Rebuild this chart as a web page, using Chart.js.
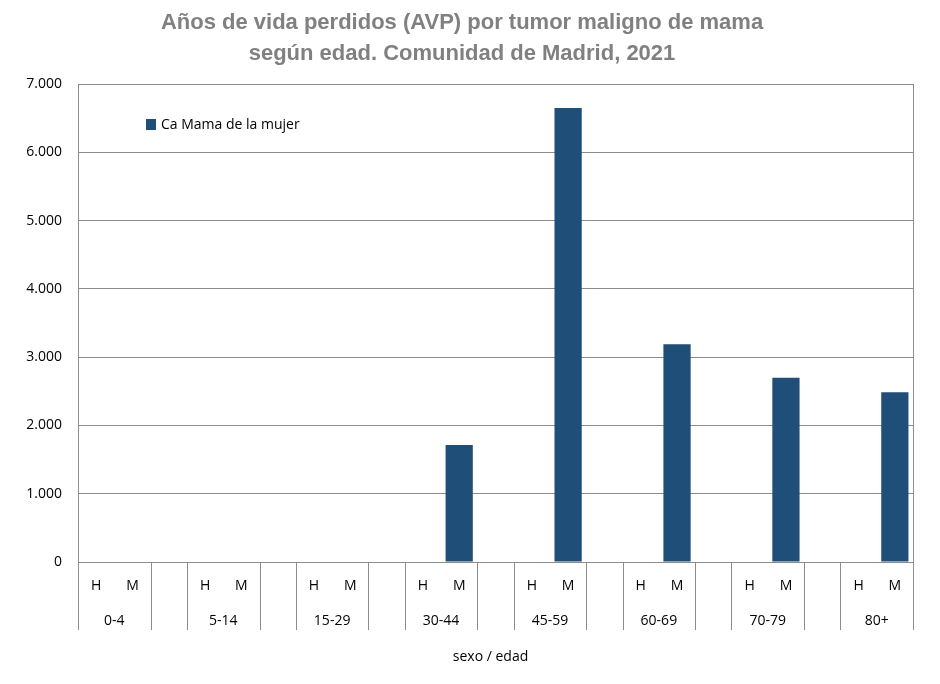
<!DOCTYPE html>
<html>
<head>
<meta charset="utf-8">
<script src="https://cdn.jsdelivr.net/npm/chart.js@4.4.1/dist/chart.umd.min.js"></script>
<style>
html,body{margin:0;padding:0;background:#fff;}
#wrap{width:940px;height:684px;position:relative;}
</style>
</head>
<body>
<div id="wrap"><canvas id="c" width="940" height="684"></canvas></div>
<script>
const titleLines = ['Años de vida perdidos (AVP) por tumor maligno de mama', 'según edad. Comunidad de Madrid, 2021'];
const ageGroups = ['0-4','5-14','15-29','30-44','45-59','60-69','70-79','80+'];
const sexLabels = ['H','M'];
const hombreValues = [0,0,0,0,0,0,0,0];
const mujerValues = [0,0,0,1713,6648,3188,2699,2485];
const yTicks = [0,1000,2000,3000,4000,5000,6000,7000];
const seriesLabel = 'Ca Mama de la mujer';
const xAxisTitle = 'sexo / edad';

// build slots: H, M, spacer for each group (no trailing spacer)
const labels = [];
const values = [];
const groupOfSlot = [];
ageGroups.forEach((g, i) => {
  labels.push(sexLabels[0]); values.push(hombreValues[i] || null); groupOfSlot.push(i);
  labels.push(sexLabels[1]); values.push(mujerValues[i] || null); groupOfSlot.push(i);
  if (i < ageGroups.length - 1) { labels.push(''); values.push(null); groupOfSlot.push(-1); }
});

const fmt = v => String(v).replace(/\B(?=(\d{3})+(?!\d))/g, '.');
const tickFont = {family: "'Open Sans', 'Noto Sans', sans-serif", size: 14};
const barColor = '#1F4E79';
const lineColor = '#8c8c8c';

const decor = {
  id: 'decor',
  afterDraw(chart) {
    const ctx = chart.ctx;
    const x = chart.scales.x, y = chart.scales.y;
    const area = chart.chartArea;
    const half = (x.getPixelForValue(1) - x.getPixelForValue(0)) / 2;
    ctx.save();
    // title
    ctx.fillStyle = '#808080';
    ctx.font = "bold 22px 'Liberation Sans', Arial, sans-serif";
    ctx.textAlign = 'center';
    ctx.textBaseline = 'middle';
    ctx.fillText(titleLines[0], 462, 23);
    ctx.fillText(titleLines[1], 462, 54);
    // dividers below axis
    ctx.strokeStyle = lineColor;
    ctx.lineWidth = 1;
    const bottom = area.bottom + 68;
    const xs = [area.left, area.right];
    labels.forEach((l, i) => {
      if (groupOfSlot[i] === -1) {
        const c = x.getPixelForValue(i);
        xs.push(c - half, c + half);
      }
    });
    xs.forEach(px => {
      const p = Math.round(px) + 0.5;
      ctx.beginPath(); ctx.moveTo(p, area.bottom); ctx.lineTo(p, bottom); ctx.stroke();
    });
    // group labels
    ctx.fillStyle = '#000';
    ctx.font = "14px 'Open Sans', 'Noto Sans', sans-serif";
    ctx.textBaseline = 'middle';
    ageGroups.forEach((g, i) => {
      const a = x.getPixelForValue(i * 3), b = x.getPixelForValue(i * 3 + 1);
      ctx.fillText(g, (a + b) / 2, area.bottom + 59);
    });
    // axis title
    ctx.fillText(xAxisTitle, (area.left + area.right) / 2 - 5, 657);
    // legend
    ctx.fillStyle = barColor;
    ctx.fillRect(146, 119, 10, 11);
    ctx.fillStyle = '#000';
    ctx.textAlign = 'left';
    ctx.fillText(chart.data.datasets[0].label, 161, 125);
    // plot border
    ctx.strokeStyle = lineColor;
    ctx.strokeRect(Math.round(area.left) + 0.5, Math.round(area.top) + 0.5, Math.round(area.right - area.left), Math.round(area.bottom - area.top));
    ctx.restore();
  }
};

new Chart(document.getElementById('c'), {
  type: 'bar',
  data: {
    labels: labels,
    datasets: [{
      label: seriesLabel,
      data: values,
      backgroundColor: barColor,
      barPercentage: 0.75,
      categoryPercentage: 1.0
    }]
  },
  options: {
    responsive: false,
    animation: false,
    layout: {padding: {top: 84, left: 0, right: 27, bottom: 0}},
    plugins: {legend: {display: false}, title: {display: false}, tooltip: {enabled: false}},
    scales: {
      x: {
        grid: {display: false, drawTicks: false},
        border: {color: lineColor},
        ticks: {font: tickFont, color: '#000', padding: 16, maxRotation: 0, autoSkip: false},
        afterFit(s) { s.height = 122; }
      },
      y: {
        min: 0, max: 7000,
        afterBuildTicks(s) { s.ticks = yTicks.map(v => ({value: v})); },
        ticks: {font: tickFont, color: '#000', padding: 16, callback: v => fmt(v)},
        grid: {color: lineColor, drawTicks: false},
        border: {color: lineColor},
        afterFit(s) { s.width = 78; }
      }
    }
  },
  plugins: [decor]
});
</script>
</body>
</html>
